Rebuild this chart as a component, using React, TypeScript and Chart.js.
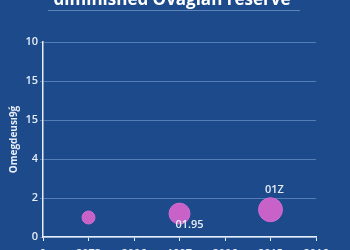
import React, { useEffect, useRef } from "react";
import { Chart, registerables } from "chart.js";

Chart.register(...registerables);

const titleText = "diminished Ovagian reserve";
const yAxisTitle = "Omegdeusı9ǵ";
const xLabels = ["0", "2073", "2006", "1997", "2006", "2015", "2016"];
const yTickLabels = ["0", "2", "4", "15", "15", "10"];
const bubbleX = [1, 3, 5];
const bubbleY = [1.0, 1.2, 1.4];
const bubbleR = [6.5, 10.5, 12];
const pointLabels = ["", "01.95", "01Z"];

const BG = "#1c4a8b";
const TEXT = "#e6edf7";
const FONT = "'Open Sans', 'Noto Sans', sans-serif";

const decorPlugin = {
  id: "decor",
  beforeDraw(chart: any) {
    const { ctx, width, height } = chart;
    ctx.save();
    ctx.fillStyle = BG;
    ctx.fillRect(0, 0, width, height);
    ctx.restore();
  },
  afterDatasetsDraw(chart: any) {
    const { ctx } = chart;
    ctx.save();
    // title
    ctx.fillStyle = "#ffffff";
    ctx.font = `bold 17px ${FONT}`;
    ctx.textAlign = "center";
    ctx.textBaseline = "alphabetic";
    ctx.fillText(titleText, 172, 5);
    ctx.strokeStyle = "rgba(150,180,225,0.55)";
    ctx.lineWidth = 1;
    ctx.beginPath();
    ctx.moveTo(48, 10.5);
    ctx.lineTo(300, 10.5);
    ctx.stroke();
    // point labels
    const meta = chart.getDatasetMeta(0);
    ctx.font = `600 11px ${FONT}`;
    ctx.fillStyle = TEXT;
    ctx.textBaseline = "middle";
    meta.data.forEach((el: any, i: number) => {
      const lbl = pointLabels[i];
      if (!lbl) return;
      if (i === 1) {
        ctx.fillText(lbl, el.x + 10, el.y + 11);
      } else {
        ctx.fillText(lbl, el.x + 4, el.y - 20);
      }
    });
    ctx.restore();
  },
};

export default function App() {
  const ref = useRef<HTMLCanvasElement | null>(null);
  useEffect(() => {
    document.body.style.margin = "0";
    document.body.style.background = BG;
    const data = bubbleX.map((x, i) => ({ x, y: bubbleY[i], r: bubbleR[i] }));
    const chart = new Chart(ref.current as HTMLCanvasElement, {
      type: "bubble",
      data: {
        datasets: [
          {
            data,
            backgroundColor: "#c862c9",
            borderColor: "#cf6ccf",
            borderWidth: 1,
          },
        ],
      },
      options: {
        animation: false,
        responsive: false,
        layout: { padding: { top: 42, right: 34, left: 0, bottom: 0 } },
        plugins: {
          legend: { display: false },
          title: { display: false },
          tooltip: { enabled: false },
        },
        scales: {
          x: {
            type: "linear",
            min: 0,
            max: xLabels.length - 1,
            grid: {
              display: true,
              drawOnChartArea: false,
              drawTicks: true,
              tickLength: 4,
              color: TEXT,
            },
            border: { display: true, color: TEXT, width: 1.5 },
            ticks: {
              stepSize: 1,
              color: TEXT,
              font: { family: FONT, size: 11, weight: "600" },
              padding: 6,
              autoSkip: false,
              maxRotation: 0,
              callback: (_v: any, i: number) => xLabels[i],
            },
            afterFit(scale: any) {
              scale.height = 13;
            },
          },
          y: {
            type: "linear",
            min: 0,
            max: 10,
            ticks: {
              stepSize: 2,
              color: TEXT,
              font: { family: FONT, size: 11, weight: "600" },
              padding: 2,
              callback: (_v: any, i: number) => yTickLabels[i],
            },
            grid: {
              color: "rgba(140,175,225,0.5)",
              lineWidth: 1,
              drawTicks: true,
              tickLength: 3,
            },
            border: { display: true, color: TEXT, width: 1.5 },
            title: {
              display: true,
              text: yAxisTitle,
              color: TEXT,
              font: { family: FONT, size: 10, weight: "bold" },
              padding: { top: 8, bottom: 0 },
            },
            afterFit(scale: any) {
              scale.width = 43;
            },
          },
        },
      },
      plugins: [decorPlugin],
    });
    return () => chart.destroy();
  }, []);
  return (
    <div style={{ width: 350, height: 250, overflow: "hidden", background: BG }}>
      <canvas ref={ref} width={350} height={250} style={{ display: "block" }} />
    </div>
  );
}
